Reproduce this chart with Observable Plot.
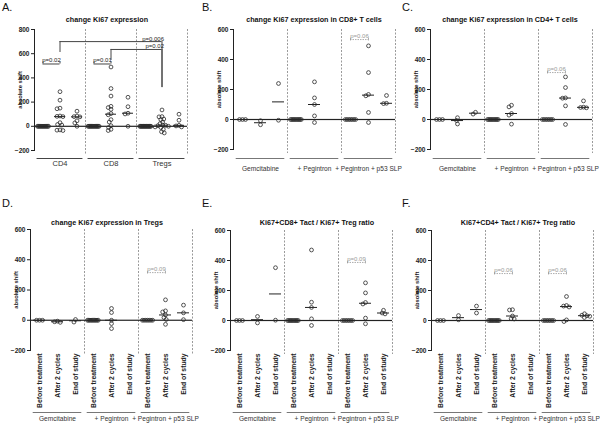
<!DOCTYPE html>
<html><head><meta charset="utf-8">
<script src="https://cdn.jsdelivr.net/npm/d3@7"></script>
<script src="https://cdn.jsdelivr.net/npm/@observablehq/plot@0.6"></script>
<style>
body{margin:0;background:#fff;}
#root{position:relative;width:600px;height:426px;font-family:"Liberation Sans",Arial,sans-serif;overflow:hidden;background:#fff}
.panel{position:absolute}
.title{position:absolute;font-weight:bold;font-size:7.2px;white-space:nowrap;transform:translate(-50%,-50%);color:#111}
.letter{position:absolute;font-size:11px;color:#111}
svg g[aria-label="dot"] circle{r:1.9px}
svg g[aria-label^="y-axis"] text{font-weight:bold}
svg g[aria-label="y-axis label"] text{font-size:5.8px}
svg g[aria-label^="fx-axis"] text{font-weight:bold;font-size:6.8px}
</style>
</head><body><div id="root"></div>
<script>
// ---- categories / labels ----
const timepoints = ["Before treatment", "After 2 cycles", "End of study"];
const groupsA = ["CD4", "CD8", "Tregs"];
const groupsBF = ["Gemcitabine", "+ Pegintron", "+ Pegintron + p53 SLP"];
const ticksA = [-200, 0, 200, 400, 600, 800];
const ticksBF = [-200, 0, 200, 400, 600];

// ---- values (absolute shift), 9 columns: group x timepoint ----
const valuesA = [
  [0,0,0,0,0,0,0,0,0,0,0,0,0],
  [286,216,150,145,85,82,80,30,15,10,-30,-32,-35],
  [125,85,80,78,45,28,0],
  [0,0,0,0,0,0,0,0,0,0,0,0,0,0],
  [490,312,250,165,155,140,105,95,55,35,5,-10,-25,-35],
  [240,162,108,102,0],
  [0,0,0,0,0,0,0,0,0,0,0,0,0,0,0,0],
  [135,80,78,60,55,35,22,10,8,5,0,-5,-10,-25,-45,-55],
  [100,50,8,3,-5]
];
const valuesB = [
  [0,0,0], [-8,-35], [240,-5],
  [0,0,0,0,0,0,0,0,0,0], [251,144,100,24,-20], [],
  [0,0,0,0,0,0,0], [491,313,167,158,47,-20], [160,108,106]
];
const valuesC = [
  [0,0,0], [12,-7,-30], [48,36],
  [0,0,0,0,0,0,0,0,0,0], [95,84,40,29,-31], [],
  [0,0,0,0,0,0,0], [284,213,144,142,91,-33], [124,82,80,78]
];
const valuesD = [
  [0,0,0], [-6,-10,-14], [5,-12],
  [0,0,0,0,0,0,0,0,0,0], [78,51,0,-22,-55], [],
  [0,0,0,0,0,0,0], [135,62,55,35,18,5,-27], [100,49,4]
];
const valuesE = [
  [0,0,0], [27,-16], [352,2],
  [0,0,0,0,0,0,0,0,0,0], [470,122,87,11,-33], [],
  [0,0,0,0,0,0,0], [251,184,120,110,16,-22], [68,50,44]
];
const valuesF = [
  [0,0,0], [33,5], [96,50],
  [0,0,0,0,0,0,0,0,0,0], [72,70,30,12,10], [],
  [0,0,0,0,0,0,0], [160,100,96,90,4,-7], [45,35,32,28,20]
];

// ---- significance annotations (column indices, y level) ----
const bracketsA = [
  {from: 0, to: 1, y: 515, label: "p=0.02", kind: "small"},
  {from: 3, to: 4, y: 515, label: "p=0.01", kind: "small"},
  {from: 1, to: 7, y: 700, drop1: 610, drop2: 320, label: "p=0.006", kind: "long"},
  {from: 4, to: 7, y: 635, drop1: 544, drop2: 320, label: "p=0.02", kind: "long"}
];
const bracketsB = [{from: 6, to: 7, y: 533, label: "p=0.06", kind: "gray"}];
const bracketsC = [{from: 6, to: 7, y: 313, label: "p=0.06", kind: "gray"}];
const bracketsD = [{from: 6, to: 7, y: 315, label: "p=0.09", kind: "gray"}];
const bracketsE = [{from: 6, to: 7, y: 387, label: "p=0.09", kind: "gray"}];
const bracketsF = [
  {from: 3, to: 4, y: 313, label: "p=0.06", kind: "gray"},
  {from: 6, to: 7, y: 313, label: "p=0.06", kind: "gray"}
];

const panels = [
  {letter: "A.", title: "change Ki67 expression", tx: 107, ty: 19, left: 0, top: 0, width: 200, height: 175, mt: 29, mb: 25, ml: 30, mr: 9,
   yMax: 800, ticks: ticksA, groups: groupsA, values: valuesA, brackets: bracketsA, lineDy: 8, labelDy: 13.5, groupLine: "#444", groupFont: 7.5, bottomAxis: false},
  {letter: "B.", title: "change Ki67 expression in CD8+ T cells", tx: 314, ty: 19, left: 200, top: 0, width: 200, height: 175, mt: 29, mb: 26, ml: 30, mr: 3,
   yMax: 600, ticks: ticksBF, groups: groupsBF, values: valuesB, brackets: bracketsB, lineDy: 9, labelDy: 19, groupLine: "#777", groupFont: 6.6, bottomAxis: false},
  {letter: "C.", title: "change Ki67 expression in CD4+ T cells", tx: 510, ty: 19, left: 400, top: 0, width: 200, height: 175, mt: 29, mb: 26, ml: 29, mr: 8,
   yMax: 600, ticks: ticksBF, groups: groupsBF, values: valuesC, brackets: bracketsC, lineDy: 9, labelDy: 19, groupLine: "#777", groupFont: 6.6, bottomAxis: false},
  {letter: "D.", title: "change Ki67 expression in Tregs", tx: 107, ty: 222, left: 0, top: 210, width: 200, height: 216, mt: 19, mb: 76, ml: 30, mr: 8,
   yMax: 600, ticks: ticksBF, groups: groupsBF, values: valuesD, brackets: bracketsD, lineDy: 62, labelDy: 68.5, groupLine: "#777", groupFont: 6.6, bottomAxis: true},
  {letter: "E.", title: "Ki67+CD8+ Tact / Ki67+ Treg ratio", tx: 317, ty: 222, left: 200, top: 210, width: 200, height: 216, mt: 20, mb: 76, ml: 30, mr: 8,
   yMax: 600, ticks: ticksBF, groups: groupsBF, values: valuesE, brackets: bracketsE, lineDy: 62, labelDy: 68.5, groupLine: "#777", groupFont: 6.6, bottomAxis: true},
  {letter: "F.", title: "Ki67+CD4+ Tact / Ki67+ Treg ratio", tx: 518, ty: 222, left: 400, top: 210, width: 200, height: 216, mt: 20, mb: 76, ml: 31, mr: 7,
   yMax: 600, ticks: ticksBF, groups: groupsBF, values: valuesF, brackets: bracketsF, lineDy: 62, labelDy: 68.5, groupLine: "#777", groupFont: 6.6, bottomAxis: true}
];

function buildPanel(cfg) {
  const cols = d3.range(9);
  const pxPerUnit = (cfg.height - cfg.mt - cfg.mb) / (cfg.yMax + 200);
  const tickLen = 2 / pxPerUnit;
  const marks = [];
  // dashed separators at the end of each group
  marks.push(Plot.ruleX([2, 5, 8], {fx: d => d, x: 1, stroke: "#808080", strokeWidth: 0.8, strokeDasharray: "2,1.5", insetBottom: -4}));
  // zero line
  marks.push(Plot.ruleY([0], {stroke: "#222", strokeWidth: 1.2}));
  // group underline + label
  marks.push(Plot.ruleY(cfg.groups, {fx: (d, i) => i * 3 + 1, y: -200, x1: -0.85, x2: 1.85, dy: cfg.lineDy, stroke: cfg.groupLine, strokeWidth: 1}));
  marks.push(Plot.text(cfg.groups, {fx: (d, i) => i * 3 + 1, x: 0.5, y: -200, text: d => d, dy: cfg.labelDy, fontSize: cfg.groupFont, fill: "#333"}));
  // medians
  const med = cols.filter(c => cfg.values[c].length).map(c => ({c, m: d3.median(cfg.values[c])}));
  marks.push(Plot.tickY(med, {fx: "c", y: "m", insetLeft: 3, insetRight: 3, stroke: "#222", strokeWidth: 1}));
  // points (scatter, dodged within each column)
  for (const c of cols) {
    const vals = cfg.values[c];
    if (!vals.length) continue;
    const ties = d3.max(d3.rollup(vals, v => v.length, d => d).values());
    const rd = Math.min(1.5, 6 / ties);
    marks.push(Plot.dot(vals.map(v => ({c, v})),
      Plot.dodgeX({anchor: "middle", padding: 0, r: rd, fx: "c", y: "v", fill: "none", stroke: "#2a2a2a", strokeWidth: 0.8})));
  }
  // brackets
  const br = cfg.brackets;
  const gray = br.filter(b => b.kind === "gray");
  const solid = br.filter(b => b.kind !== "gray");
  const ends = b => [{...b, x: 0.5}, {...b, x: 0.5 + b.to - b.from}];
  if (solid.length) {
    marks.push(Plot.ruleY(solid, {fx: "from", y: "y", x1: () => 0.5, x2: d => 0.5 + d.to - d.from, stroke: "#444", strokeWidth: 1}));
    const small = solid.filter(b => b.kind === "small");
    const long = solid.filter(b => b.kind === "long");
    marks.push(Plot.ruleX(small.flatMap(ends), {fx: "from", x: "x", y1: "y", y2: d => d.y + tickLen, stroke: "#444", strokeWidth: 1}));
    marks.push(Plot.text(small, {fx: "from", x: d => (1 + d.to - d.from) / 2, y: "y", text: "label", lineAnchor: "bottom", dy: -1.5, fontSize: 6, fill: "#222"}));
    marks.push(Plot.ruleX(long, {fx: "from", x: () => 0.5, y1: "drop1", y2: "y", stroke: "#444", strokeWidth: 1}));
    marks.push(Plot.ruleX(long, {fx: "from", x: d => 0.5 + d.to - d.from, y1: "drop2", y2: "y", stroke: "#444", strokeWidth: 1}));
    marks.push(Plot.text(long, {fx: "from", x: d => 0.5 + d.to - d.from, y: "y", text: "label", textAnchor: "end", lineAnchor: "bottom", dx: 2, dy: -1, fontSize: 6, fill: "#222"}));
  }
  if (gray.length) {
    marks.push(Plot.ruleY(gray, {fx: "from", y: "y", x1: () => 0.5, x2: d => 0.5 + d.to - d.from, stroke: "#999", strokeWidth: 0.8, strokeDasharray: "1.5,1"}));
    marks.push(Plot.ruleX(gray.flatMap(ends), {fx: "from", x: "x", y1: d => d.y - tickLen * 0.7, y2: d => d.y + tickLen * 0.7, stroke: "#999", strokeWidth: 0.8}));
    marks.push(Plot.text(gray, {fx: "from", x: d => (1 + d.to - d.from) / 2, y: "y", text: "label", lineAnchor: "bottom", dy: -1.5, fontSize: 6, fill: "#999"}));
  }

  return Plot.plot({
    width: cfg.width, height: cfg.height,
    marginTop: cfg.mt, marginBottom: cfg.mb, marginLeft: cfg.ml, marginRight: cfg.mr,
    fx: cfg.bottomAxis
      ? {domain: cols, padding: 0, axis: "bottom", tickFormat: i => timepoints[i % 3], tickRotate: -90, tickSize: 0, tickPadding: 3, label: null}
      : {domain: cols, padding: 0, axis: null},
    x: {domain: [0, 1], axis: null},
    y: {domain: [-200, cfg.yMax], ticks: cfg.ticks, tickSize: 3, tickPadding: 2, line: true,
        label: "absolute shift", labelAnchor: "center", labelOffset: 17, labelArrow: false},
    style: {fontFamily: '"Liberation Sans", Arial, sans-serif', fontSize: "6.5px", color: "#222", background: "none", overflow: "visible"},
    marks
  });
}

const root = document.getElementById("root");
for (const cfg of panels) {
  const div = document.createElement("div");
  div.className = "panel";
  div.style.left = cfg.left + "px";
  div.style.top = cfg.top + "px";
  div.appendChild(buildPanel(cfg));
  root.appendChild(div);
  const t = document.createElement("div");
  t.className = "title";
  t.style.left = cfg.tx + "px";
  t.style.top = cfg.ty + "px";
  t.textContent = cfg.title;
  root.appendChild(t);
  const l = document.createElement("div");
  l.className = "letter";
  l.style.left = (cfg.left + 2) + "px";
  l.style.top = (cfg.top === 0 ? 1 : 197) + "px";
  l.textContent = cfg.letter;
  root.appendChild(l);
}
</script>
</body></html>
